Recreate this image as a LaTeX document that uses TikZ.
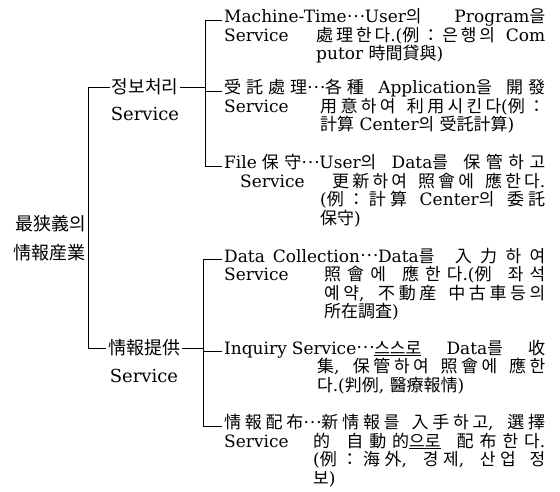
\documentclass[tikz,border=0pt]{standalone}
\usepackage{fontspec}
\setmainfont{DejaVu Serif}
\newfontfamily\hangul{Noto Sans CJK KR}
\usepackage{tikz}
\usetikzlibrary{positioning}

% Hangul and Hanja switch to the CJK font by themselves
\XeTeXinterchartokenstate=1
\newXeTeXintercharclass\hanclass
\newcount\hancnt
\newcommand\hanrange[2]{%
  \hancnt=#1\relax
  \loop
    \XeTeXcharclass\hancnt=\hanclass
  \ifnum\hancnt<#2\relax
    \advance\hancnt by 1
  \repeat}
\hanrange{"1100}{"11FF}
\hanrange{"2026}{"2026}
\hanrange{"3000}{"303F}
\hanrange{"3130}{"318F}
\hanrange{"4E00}{"9FFF}
\hanrange{"AC00}{"D7A3}
\hanrange{"FF00}{"FFEF}
\XeTeXinterchartoks 0 \hanclass = {\hangul}
\XeTeXinterchartoks 4095 \hanclass = {\hangul}
\XeTeXinterchartoks \hanclass 0 = {\rmfamily}
\XeTeXinterchartoks \hanclass 4095 = {\rmfamily}
% let justified lines spread between CJK characters too
\XeTeXinterchartoks \hanclass \hanclass = {\nobreak\hskip 0pt plus 1.5pt\relax}

% centred dots between a term and its explanation
\newcommand\ellip{\raisebox{0.3em}{…}}
% fixed space inside a term
\newcommand\fsp{\hspace{5pt}}
% "Service" in the hanging indent of a leaf
\newcommand\svc[1][0pt]{\hspace*{-\hangindent}\makebox[\hangindent][l]{\hspace*{#1}Service}}

\tikzset{
    % Define style for the root text
    root/.style={
           anchor=east,
           inner sep=0pt,
           align=right,
           font=\fontsize{18}{29}\selectfont},
    % Define style for the two groups
    group/.style={
           inner sep=0pt,
           font=\fontsize{18}{20}\selectfont},
    % Define style for the leaves
    leaf/.style={
           anchor=base west,
           inner sep=0pt,
           text width=321pt,
           align=justify,
           font=\fontsize{17}{18.5}\selectfont},
    % Define line style
    tree/.style={
           draw=black,
           line width=0.7pt}
}

\begin{document}
\begin{tikzpicture}[x=1pt,y=-1pt,node distance=12pt]
  \useasboundingbox (0,0) rectangle (560,492);

  \node[root] (info) at (86,238) {最狭義의\\情報産業};
  \node[group] (proc) at (145,87) {정보처리};
  \node[group] (procsv) [below=of proc] {Service};
  \node[group] (prov) at (144,348) {情報提供};
  \node[group] (provsv) [below=of prov] {Service};

  \coordinate (rootbar) at (88,0);
  \coordinate (procbar) at (205,0);
  \coordinate (provbar) at (203,0);

  % 정보처리 Service
  \node[leaf] (mt) at (224,23) {\hangindent=92pt
    Machine-Time\ellip User의 Program을\linebreak
    \svc 處理한다.(例：은행의 Com\linebreak
    putor 時間貸與)\par};
  \node[leaf] (entr) at (224,94) {\hangindent=96pt
    受託處理\ellip 各種 Application을 開發\linebreak
    \svc 用意하여 利用시킨다(例：\linebreak
    計算 Center의 受託計算)\par};
  \node[leaf] (file) at (224,169) {\hangindent=96pt
    File\fsp 保守\ellip User의 Data를 保管하고\linebreak
    \svc[16pt]\hspace{12pt}更新하여 照會에 應한다.\linebreak
    (例：計算 Center의 委託\linebreak
    保守)\par};

  % 情報提供 Service
  \node[leaf] (dcol) at (224,262) {\hangindent=100pt
    Data\hspace{8pt}Collection\ellip Data를 入力하여\linebreak
    \svc 照會에 應한다.(例 좌석\linebreak
    예약, 不動産 中古車등의\linebreak
    所在調査)\par};
  \node[leaf] (inq) at (224,354) {\hangindent=93pt
    Inquiry\fsp Service\ellip\underline{스스로} Data를 收\linebreak
    集, 保管하여 照會에 應한\linebreak
    다.(判例, 醫療報情)\par};
  \node[leaf] (dist) at (224,428.5) {\hangindent=89pt
    情報配布\ellip 新情報를 入手하고, 選擇\linebreak
    \svc 的 自動的\underline{으로} 配布한다.\linebreak
    (例：海外, 경제, 산업 정\linebreak
    보)\par};

  % brackets
  \draw[tree] ([xshift=-2pt]proc.west) -- (proc.west -| rootbar) -- (prov.west -| rootbar) -- ([xshift=-2pt]prov.west);
  \draw[tree] ([xshift=2pt]proc.east) -- (proc.east -| procbar);
  \draw[tree] ([xshift=2pt]prov.east) -- (prov.east -| provbar);
  \draw[tree] ([xshift=-2pt]mt.mid west) -- (mt.mid west -| procbar) -- (file.mid west -| procbar) -- ([xshift=-2pt]file.mid west);
  \draw[tree] ([xshift=-2pt]entr.mid west) -- (entr.mid west -| procbar);
  \draw[tree] ([xshift=-2pt]dcol.mid west) -- (dcol.mid west -| provbar) -- (dist.mid west -| provbar) -- ([xshift=-2pt]dist.mid west);
  \draw[tree] ([xshift=-2pt]inq.mid west) -- (inq.mid west -| provbar);
\end{tikzpicture}
\end{document}
